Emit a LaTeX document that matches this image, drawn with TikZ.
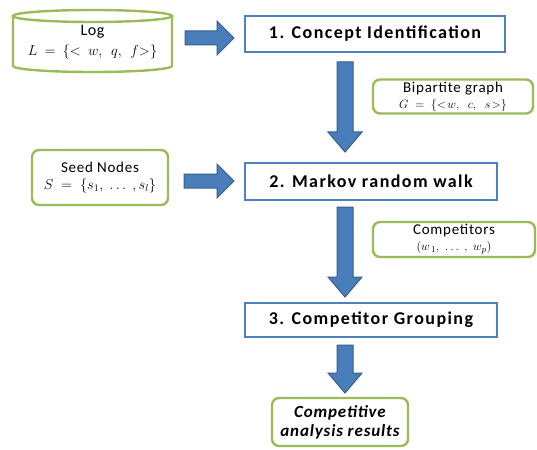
\documentclass[tikz,border=0pt]{standalone}
\usepackage{fontspec}
\setmainfont{Carlito}
\usetikzlibrary{calc}
\definecolor{stepblue}{HTML}{4F81BD}
\definecolor{arrowfill}{HTML}{4A7EBB}
\definecolor{arrowedge}{HTML}{385D8A}
\definecolor{leafgreen}{HTML}{9BBB59}
\tikzset{
  x=1pt,y=-1pt,
  stepbox/.style={draw=stepblue,line width=2.6pt,fill=white,inner sep=0pt,
    font=\fontsize{18}{20}\selectfont\bfseries\addfontfeature{LetterSpace=8}},
  greenbox/.style={draw=leafgreen,line width=2.4pt,fill=white,rounded corners=7pt,inner sep=0pt,
    align=center,font=\fontsize{15}{16}\selectfont\addfontfeature{LetterSpace=5}},
  formula/.style={font=\fontsize{14}{15}\selectfont},
  fat/.style={fill=arrowfill,draw=arrowedge,line width=1pt,line join=miter}
}
\newcommand{\varrow}[3]{% x, ytop, ytip
  \draw[fat] (#1-8,#2) -- (#1+8,#2) -- (#1+8,#3-20) -- (#1+17,#3-20) -- (#1,#3) -- (#1-17,#3-20) -- (#1-8,#3-20) -- cycle;}
\newcommand{\harrow}[3]{% xstart, y, xtip
  \draw[fat] (#1,#2-7) -- (#3-17,#2-7) -- (#3-17,#2-17) -- (#3,#2) -- (#3-17,#2+17) -- (#3-17,#2+7) -- (#1,#2+7) -- cycle;}
\begin{document}
\begin{tikzpicture}
\useasboundingbox (0,0) rectangle (537,449);
% Log cylinder
\fill[white] (13,16) rectangle (172,66);
\draw[leafgreen,line width=2.4pt] (13,16) -- (13,66) arc[start angle=180,end angle=360,x radius=79.5pt,y radius=6pt] -- (172,16);
\draw[leafgreen,line width=2.4pt] (92.5,16) ellipse[x radius=79.5pt,y radius=6pt];
\node[font=\fontsize{16}{18}\selectfont\addfontfeature{LetterSpace=4}] (logt) at (92.5,32) {Log};
\node[formula] (logf) at (92.5,52) {$L\ =\ \{<\ w,\ \ q,\ \ f{>}\}$};
\coordinate (log) at (172,38);
% Step boxes
\node[stepbox,minimum width=260pt,minimum height=36pt] (s1) at (375,34) {1. Concept Identification};
\node[stepbox,minimum width=252pt,minimum height=37pt] (s2) at (371,181.5) {2. Markov random walk};
\node[stepbox,minimum width=252pt,minimum height=34pt] (s3) at (371,320) {3. Competitor Grouping};
% Green boxes
\node[greenbox,minimum width=160pt,minimum height=34pt] (bip) at (453,96.5)
  {Bipartite graph\\{\fontsize{12}{13}\selectfont$G\ =\ \{<\!w,\ \ c,\ \ s\!>\}$}};
\node[greenbox,minimum width=136pt,minimum height=55pt] (seed) at (100,177.5)
  {Seed Nodes\\[1pt]{\fontsize{14}{15}\selectfont$S\ =\ \{s_1,\ \ldots\ ,s_l\}$}};
\node[greenbox,minimum width=162pt,minimum height=35pt] (comp) at (454,239.5)
  {Competitors\\{\fontsize{13}{14}\selectfont$(w_{\,1},\ \ldots\ ,\ w_p)$}};
\node[greenbox,minimum width=136pt,minimum height=48pt,font=\fontsize{17}{19}\selectfont\bfseries\itshape\addfontfeature{LetterSpace=5}] (res) at (340,422)
  {Competitive\\analysis results};
% Block arrows
\harrow{185}{38}{234}
\harrow{184}{181}{234}
\varrow{345}{62}{152}
\varrow{345}{207}{297}
\varrow{345}{345}{393}
\end{tikzpicture}
\end{document}
